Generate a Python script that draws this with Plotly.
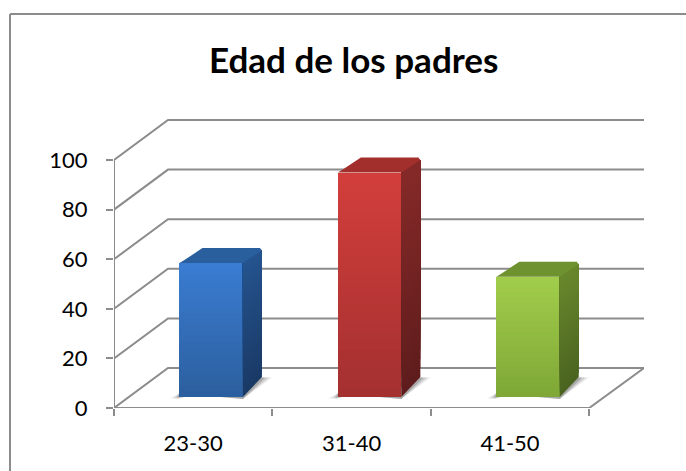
import plotly.graph_objects as go

categories = ["23-30", "31-40", "41-50"]
values = [54, 90.5, 48.5]
y_ticks = [0, 20, 40, 60, 80, 100]
title_text = "Edad de los padres"

# colours (top-of-gradient, bottom-of-gradient)
front_top = ["#3b7dd3", "#d43f3c", "#a2ce4c"]
front_bot = ["#2c5f9f", "#a43030", "#7fa836"]
side_top = ["#25548f", "#872a29", "#69892d"]
side_bot = ["#1a3a66", "#5f1c1c", "#4a6420"]
top_col = ["#2a5f9e", "#a32f2d", "#6f9231"]
GRID = "#8c8c8c"

# layout geometry in pixels
W, H = 686, 471
L, R, T, B = 114, 644, 119, 408
PX_X = 158.4   # px per category
PX_Y = 2.48    # px per value unit
xr = [-0.5, -0.5 + (R - L) / PX_X]
yr = [0, (B - T) / PX_Y]
DX = 54 / PX_X       # chart depth
DY = 40 / PX_Y
bar_w = 63.5 / PX_X
bar_dx = 19 / PX_X   # bar depth
bar_dy_top = 15 / PX_Y
bar_dy_bot = 20 / PX_Y
base = 11 / PX_Y
shift = 18 / PX_X    # bar offset in from front of the floor
N = 24


def hex2rgb(h):
    return [int(h[i:i + 2], 16) for i in (1, 3, 5)]


def mix(a, b, t):
    ca, cb = hex2rgb(a), hex2rgb(b)
    return "rgb(%d,%d,%d)" % tuple(round(p + (q - p) * t) for p, q in zip(ca, cb))


fig = go.Figure()


def line(xs, ys):
    fig.add_trace(go.Scatter(x=xs, y=ys, mode="lines", cliponaxis=False, hoverinfo="skip",
                             line=dict(color=GRID, width=2), showlegend=False))


x0 = xr[0]
# walls and gridlines
line([x0, x0], [y_ticks[0], y_ticks[-1]])
for v in y_ticks:
    line([x0, x0 + DX, xr[1]], [v, v + DY, v + DY])
# floor front edges
x_end = x0 + len(categories)
line([x0, x_end, xr[1]], [0, 0, DY])

positions = [i + shift for i in range(len(categories))]

# shadows on the floor (primary axes, so they sit below the bars)
for i, v in enumerate(values):
    c = positions[i]
    xl, xrt = c - bar_w / 2, c + bar_w / 2
    for grow, alpha in [(1.0, 0.14), (0.65, 0.22), (0.3, 0.30)]:
        g = grow * 10 / PX_X
        fig.add_trace(go.Scatter(
            x=[xl - g, xl, xrt, xrt + bar_dx + g, xrt + bar_dx - g / 2],
            y=[base - 0.8, base + 1.5, base - 0.8, base + bar_dy_bot - 0.2, base + bar_dy_bot - 0.2],
            mode="lines", fill="toself", fillcolor=f"rgba(90,90,90,{alpha})",
            line=dict(width=0), hoverinfo="skip", showlegend=False))

# front faces: vertical gradient through overlaid bars
for k in range(N):
    t = k / N
    fig.add_trace(go.Bar(
        x=positions, y=[v * (1 - t) for v in values],
        base=[base + v * t for v in values],
        width=bar_w,
        marker=dict(color=[mix(front_bot[i], front_top[i], t) for i in range(3)], line=dict(width=0)),
        hoverinfo="skip" if k else "y", showlegend=False, xaxis="x2", yaxis="y2"))

# side and top faces
for i, v in enumerate(values):
    xa = positions[i] + bar_w / 2
    xb = xa + bar_dx
    for k in range(N):
        t0 = k / N
        yf0 = base + v * t0
        yf1 = base + v
        d0 = bar_dy_bot + (bar_dy_top - bar_dy_bot) * t0
        fig.add_trace(go.Scatter(
            x=[xa, xb, xb, xa],
            y=[yf0, yf0 + d0, yf1 + bar_dy_top - 1.0, yf1],
            mode="lines", fill="toself", fillcolor=mix(side_bot[i], side_top[i], t0),
            line=dict(width=0), hoverinfo="skip", showlegend=False, xaxis="x2", yaxis="y2"))
    xl = positions[i] - bar_w / 2
    ytop = base + v
    fig.add_trace(go.Scatter(
        x=[xl, xl + 0.6 * bar_w / 10, xl + bar_dx + 4 / PX_X, xb - 2 / PX_X, xb, xa, xl],
        y=[ytop, ytop + 0.9, ytop + bar_dy_top, ytop + bar_dy_top, ytop + bar_dy_top - 1.0, ytop, ytop],
        mode="lines", fill="toself", fillcolor=top_col[i],
        line=dict(width=0), hoverinfo="skip", showlegend=False, xaxis="x2", yaxis="y2"))

pw, ph = R - L, B - T
fig.update_layout(
    width=W, height=H,
    margin=dict(l=L, r=W - R, t=T, b=H - B, pad=0),
    paper_bgcolor="white", plot_bgcolor="white",
    barmode="overlay", bargap=0,
    font=dict(family="Lato, Carlito, sans-serif", color="#000000"),
    xaxis=dict(range=xr, tickmode="array", tickvals=list(range(3)), ticktext=categories,
               showgrid=False, zeroline=False, showline=False, ticks="",
               ticklabelstandoff=20, tickfont=dict(size=22),
               minor=dict(tickmode="array", tickvals=[-0.5, 0.5, 1.5, 2.5], ticks="outside",
                          ticklen=7, tickwidth=2, tickcolor=GRID, showgrid=False)),
    yaxis=dict(range=yr, tickmode="array", tickvals=y_ticks, showgrid=False, zeroline=False,
               showline=False, ticks="outside", ticklen=7, tickwidth=2, tickcolor=GRID,
               ticklabelstandoff=14, tickfont=dict(size=22)),
    xaxis2=dict(range=xr, overlaying="x", visible=False, fixedrange=True),
    yaxis2=dict(range=yr, overlaying="y", visible=False, fixedrange=True),
    annotations=[dict(text="<b>%s</b>" % title_text, xref="paper", yref="paper",
                      x=(353.5 - L) / pw, y=(B - 59) / ph, xanchor="center", yanchor="middle",
                      showarrow=False, font=dict(size=35))],
    shapes=[
        dict(type="line", xref="paper", yref="paper", x0=(10 - L) / pw, x1=(W - L) / pw,
             y0=(B - 14) / ph, y1=(B - 14) / ph, line=dict(color=GRID, width=2)),
        dict(type="line", xref="paper", yref="paper", x0=(10 - L) / pw, x1=(10 - L) / pw,
             y0=(B - 14) / ph, y1=(B - H) / ph, line=dict(color=GRID, width=2)),
    ],
)

fig.write_html("out.html", post_script="document.body.style.margin='0';",
               config={"displayModeBar": False})
